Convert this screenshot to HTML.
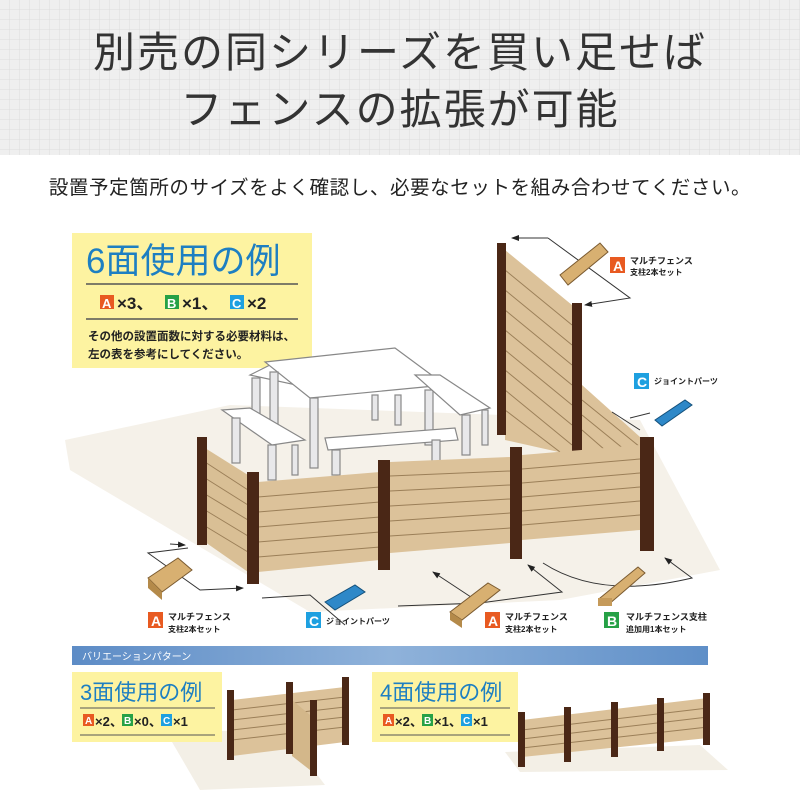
<!DOCTYPE html>
<html><head><meta charset="utf-8"><style>
html,body{margin:0;padding:0;background:#fff;}
body{width:800px;height:800px;overflow:hidden;font-family:"Liberation Sans","Noto Sans CJK JP",sans-serif;}
</style></head><body>
<svg width="800" height="800" viewBox="0 0 800 800" xmlns="http://www.w3.org/2000/svg" font-family="Liberation Sans, Noto Sans CJK JP, sans-serif">
<defs>
<pattern id="grid" width="10" height="10" patternUnits="userSpaceOnUse">
<rect width="10" height="10" fill="#efefef"/>
<path d="M10 0V10M0 10H10" stroke="#dcdcdc" stroke-width="1"/>
</pattern>
<linearGradient id="ban" x1="0" x2="1">
<stop offset="0" stop-color="#5d8cc6"/><stop offset="0.5" stop-color="#8fb2da"/><stop offset="1" stop-color="#5f8fc8"/>
</linearGradient>
<marker id="ar" markerWidth="8" markerHeight="8" refX="7" refY="4" orient="auto"><path d="M0,1 L8,4 L0,7z" fill="#222"/></marker>
</defs>
<rect x="0" y="0" width="800" height="155" fill="url(#grid)"/>
<text x="400" y="67" font-size="42" fill="#333" text-anchor="middle" letter-spacing="2">別売の同シリーズを買い足せば</text>
<text x="400" y="124" font-size="42" fill="#333" text-anchor="middle" letter-spacing="2">フェンスの拡張が可能</text>
<text x="400" y="194" font-size="19.5" fill="#222" text-anchor="middle" letter-spacing="0.6">設置予定箇所のサイズをよく確認し、必要なセットを組み合わせてください。</text>

<!-- ground -->
<polygon points="65,440 230,405 640,420 720,570 560,600 310,612 70,470" fill="#f5f1e9"/>

<!-- yellow box -->
<rect x="72" y="233" width="240" height="135" fill="#fdf3a1"/>
<text x="86" y="273" font-size="35" fill="#1d7fc2">6面使用の例</text>
<line x1="86" y1="284" x2="298" y2="284" stroke="#555" stroke-width="1.5"/>
<rect x="100" y="295" width="14" height="14" fill="#e85a21"/><text x="102" y="308" font-size="13" fill="#fff" font-weight="bold">A</text>
<text x="117" y="309" font-size="17" font-weight="bold" fill="#222">×3、</text>
<rect x="165" y="295" width="14" height="14" fill="#26a146"/><text x="167" y="308" font-size="13" fill="#fff" font-weight="bold">B</text>
<text x="182" y="309" font-size="17" font-weight="bold" fill="#222">×1、</text>
<rect x="230" y="295" width="14" height="14" fill="#1ea0e0"/><text x="232" y="308" font-size="13" fill="#fff" font-weight="bold">C</text>
<text x="247" y="309" font-size="17" font-weight="bold" fill="#222">×2</text>
<line x1="86" y1="319" x2="298" y2="319" stroke="#555" stroke-width="1.5"/>
<text x="88" y="340" font-size="11.5" fill="#222" font-weight="bold">その他の設置面数に対する必要材料は、</text>
<text x="88" y="358" font-size="11.5" fill="#222" font-weight="bold">左の表を参考にしてください。</text>

<!-- tall panels -->
<polygon points="505,250 572,305 572,455 505,440" fill="#dcc29a"/>
<g stroke="#9b7f58" stroke-width="1">
<line x1="505" y1="270" x2="572" y2="325"/><line x1="505" y1="290" x2="572" y2="345"/><line x1="505" y1="310" x2="572" y2="365"/><line x1="505" y1="330" x2="572" y2="385"/><line x1="505" y1="350" x2="572" y2="405"/><line x1="505" y1="370" x2="572" y2="425"/><line x1="505" y1="390" x2="572" y2="445"/><line x1="505" y1="410" x2="560" y2="452"/>
</g>
<polygon points="582,385 640,437 640,445 582,455" fill="#dcc29a"/>
<g stroke="#9b7f58"><line x1="582" y1="400" x2="640" y2="447"/><line x1="582" y1="415" x2="625" y2="450"/><line x1="582" y1="430" x2="605" y2="450"/></g>
<rect x="497" y="243" width="9" height="192" fill="#4a2716"/>
<rect x="572" y="303" width="10" height="152" fill="#4a2716"/>

<!-- table & benches -->
<g fill="#fff" stroke="#888" stroke-width="1.2">
<polygon points="250,375 270,365 330,378 310,388"/>
<rect x="252" y="378" width="8" height="45" fill="#e8e8ea"/>
<polygon points="265,362 395,348 445,385 310,398"/>
<rect x="310" y="398" width="8" height="70" fill="#e8e8ea"/><rect x="270" y="372" width="8" height="60" fill="#e8e8ea"/>
<rect x="425" y="390" width="8" height="55" fill="#e8e8ea"/><rect x="372" y="395" width="6" height="25" fill="#e8e8ea"/><rect x="395" y="395" width="6" height="30" fill="#e8e8ea"/>
<polygon points="415,375 440,375 490,408 460,415"/>
<rect x="462" y="415" width="8" height="40" fill="#e8e8ea"/><rect x="482" y="410" width="6" height="35" fill="#e8e8ea"/>
<polygon points="222,410 250,408 305,440 272,445"/>
<rect x="232" y="418" width="8" height="45" fill="#e8e8ea"/><rect x="268" y="445" width="8" height="35" fill="#e8e8ea"/><rect x="292" y="445" width="6" height="30" fill="#e8e8ea"/>
<polygon points="325,438 455,428 458,440 328,450"/>
<rect x="332" y="450" width="8" height="25" fill="#e8e8ea"/><rect x="432" y="440" width="8" height="30" fill="#e8e8ea"/>
</g>

<!-- front fence panels -->
<polygon points="205,448 248,475 248,572 205,542" fill="#d9bf95"/>
<polygon points="258,482 380,472 380,560 258,572" fill="#dcc29a"/>
<polygon points="390,462 510,457 510,543 390,553" fill="#dcc29a"/>
<polygon points="522,455 640,445 640,530 522,540" fill="#dcc29a"/>
<g stroke="#9b7f58" stroke-width="1">
<line x1="205" y1="462" x2="248" y2="490"/><line x1="205" y1="478" x2="248" y2="505"/><line x1="205" y1="494" x2="248" y2="520"/><line x1="205" y1="510" x2="248" y2="536"/><line x1="205" y1="526" x2="248" y2="552"/>
<line x1="258" y1="497" x2="380" y2="487"/><line x1="258" y1="512" x2="380" y2="502"/><line x1="258" y1="527" x2="380" y2="517"/><line x1="258" y1="542" x2="380" y2="532"/><line x1="258" y1="557" x2="380" y2="547"/>
<line x1="390" y1="476" x2="510" y2="471"/><line x1="390" y1="491" x2="510" y2="485"/><line x1="390" y1="506" x2="510" y2="499"/><line x1="390" y1="521" x2="510" y2="513"/><line x1="390" y1="536" x2="510" y2="528"/>
<line x1="522" y1="469" x2="640" y2="459"/><line x1="522" y1="483" x2="640" y2="473"/><line x1="522" y1="497" x2="640" y2="487"/><line x1="522" y1="511" x2="640" y2="501"/><line x1="522" y1="525" x2="640" y2="515"/>
</g>
<g fill="#4a2716">
<rect x="197" y="437" width="10" height="108"/>
<rect x="247" y="472" width="12" height="112"/>
<rect x="378" y="460" width="12" height="110"/>
<rect x="510" y="447" width="12" height="112"/>
<rect x="640" y="437" width="14" height="114"/>
</g>

<!-- arrows -->
<g fill="none" stroke="#333" stroke-width="1">
<polyline points="548,238 630,298 585,305" marker-end="url(#ar)"/>
<line x1="548" y1="238" x2="512" y2="238" marker-end="url(#ar)"/>
<polyline points="188,548 148,553 200,590 243,588" marker-end="url(#ar)"/>
<line x1="170" y1="544" x2="185" y2="545" marker-end="url(#ar)"/>
<polyline points="262,598 310,595 345,625"/>
<polyline points="398,606 480,603 433,572" marker-end="url(#ar)"/>
<polyline points="480,603 562,592 528,565" marker-end="url(#ar)"/>
<path d="M543,563 Q600,600 692,578 L665,558" marker-end="url(#ar)"/>
<polyline points="640,430 612,412"/>
<polyline points="650,413 630,418"/>
</g>

<!-- parts -->
<g>
<polygon points="148,578 178,558 192,570 162,592" fill="#d8b071" stroke="#7a5a30"/>
<polygon points="148,578 162,592 162,600 148,588" fill="#b48a4a"/>
<polygon points="450,612 488,583 500,590 462,620" fill="#d8b071" stroke="#7a5a30"/>
<polygon points="450,612 462,620 462,628 450,620" fill="#b48a4a"/>
<polygon points="560,275 600,243 608,252 568,285" fill="#d8b071" stroke="#7a5a30"/>
<polygon points="600,598 638,567 645,573 608,605" fill="#d8b071" stroke="#7a5a30"/>
<rect x="598" y="598" width="14" height="8" fill="#c59a5a"/>
<polygon points="325,602 355,585 365,592 335,610" fill="#2e88c8" stroke="#14507a"/>
<polygon points="655,420 685,400 692,405 662,426" fill="#2e88c8" stroke="#14507a"/>
</g>

<!-- labels -->
<g font-weight="bold">
<rect x="148" y="612" width="15" height="16" fill="#e85a21"/><text x="151" y="626" font-size="14" fill="#fff">A</text>
<text x="168" y="620" font-size="9" fill="#222">マルチフェンス</text><text x="168" y="632" font-size="8" fill="#222">支柱2本セット</text>
<rect x="306" y="612" width="15" height="16" fill="#1ea0e0"/><text x="309" y="626" font-size="14" fill="#fff">C</text>
<text x="326" y="624" font-size="8" fill="#222">ジョイントパーツ</text>
<rect x="485" y="612" width="15" height="16" fill="#e85a21"/><text x="488" y="626" font-size="14" fill="#fff">A</text>
<text x="505" y="620" font-size="9" fill="#222">マルチフェンス</text><text x="505" y="632" font-size="8" fill="#222">支柱2本セット</text>
<rect x="604" y="612" width="15" height="16" fill="#26a146"/><text x="607" y="626" font-size="14" fill="#fff">B</text>
<text x="626" y="620" font-size="9" fill="#222">マルチフェンス支柱</text><text x="626" y="632" font-size="8" fill="#222">追加用1本セット</text>
<rect x="610" y="257" width="15" height="16" fill="#e85a21"/><text x="613" y="271" font-size="14" fill="#fff">A</text>
<text x="630" y="264" font-size="9" fill="#222">マルチフェンス</text><text x="630" y="275" font-size="8" fill="#222">支柱2本セット</text>
<rect x="634" y="373" width="15" height="16" fill="#1ea0e0"/><text x="637" y="387" font-size="14" fill="#fff">C</text>
<text x="654" y="384" font-size="8" fill="#222">ジョイントパーツ</text>
</g>

<!-- banner -->
<rect x="72" y="646" width="636" height="19" fill="url(#ban)"/>
<text x="82" y="660" font-size="10" fill="#fff">バリエーションパターン</text>

<!-- 3 face -->
<polygon points="165,730 285,732 325,785 200,790" fill="#f3efe6"/>
<rect x="72" y="672" width="150" height="70" fill="#fdf3a1"/>
<text x="80" y="700" font-size="22" fill="#1d7fc2">3面使用の例</text>
<line x1="80" y1="708" x2="215" y2="708" stroke="#555"/>
<line x1="80" y1="735" x2="215" y2="735" stroke="#555"/>
<g font-weight="bold" font-size="13">
<rect x="83" y="714" width="11" height="12" fill="#e85a21"/><text x="85" y="724" font-size="10" fill="#fff">A</text><text x="95" y="726" fill="#222">×2、</text>
<rect x="122" y="714" width="11" height="12" fill="#26a146"/><text x="124" y="724" font-size="10" fill="#fff">B</text><text x="134" y="726" fill="#222">×0、</text>
<rect x="161" y="714" width="11" height="12" fill="#1ea0e0"/><text x="163" y="724" font-size="10" fill="#fff">C</text><text x="173" y="726" fill="#222">×1</text>
</g>
<polygon points="232,700 345,687 345,742 232,756" fill="#dcc29a"/>
<g stroke="#9b7f58"><line x1="232" y1="710" x2="345" y2="697"/><line x1="232" y1="720" x2="345" y2="707"/><line x1="232" y1="730" x2="345" y2="717"/><line x1="232" y1="740" x2="345" y2="727"/></g>
<polygon points="292,700 310,715 310,770 292,756" fill="#d3b78a"/>
<g fill="#4a2716"><rect x="227" y="690" width="7" height="70"/><rect x="286" y="682" width="7" height="72"/><rect x="342" y="677" width="7" height="68"/><rect x="310" y="700" width="7" height="76"/></g>

<!-- 4 face -->
<polygon points="505,752 700,745 728,770 520,772" fill="#f3efe6"/>
<rect x="372" y="672" width="146" height="70" fill="#fdf3a1"/>
<text x="380" y="700" font-size="22" fill="#1d7fc2">4面使用の例</text>
<line x1="380" y1="708" x2="510" y2="708" stroke="#555"/>
<line x1="380" y1="735" x2="510" y2="735" stroke="#555"/>
<g font-weight="bold" font-size="13">
<rect x="383" y="714" width="11" height="12" fill="#e85a21"/><text x="385" y="724" font-size="10" fill="#fff">A</text><text x="395" y="726" fill="#222">×2、</text>
<rect x="422" y="714" width="11" height="12" fill="#26a146"/><text x="424" y="724" font-size="10" fill="#fff">B</text><text x="434" y="726" fill="#222">×1、</text>
<rect x="461" y="714" width="11" height="12" fill="#1ea0e0"/><text x="463" y="724" font-size="10" fill="#fff">C</text><text x="473" y="726" fill="#222">×1</text>
</g>
<polygon points="522,720 708,698 708,738 522,757" fill="#dcc29a"/>
<g stroke="#9b7f58"><line x1="522" y1="730" x2="708" y2="708"/><line x1="522" y1="739" x2="708" y2="717"/><line x1="522" y1="748" x2="708" y2="727"/></g>
<g fill="#4a2716"><rect x="518" y="712" width="7" height="55"/><rect x="564" y="707" width="7" height="55"/><rect x="611" y="702" width="7" height="55"/><rect x="657" y="698" width="7" height="53"/><rect x="703" y="693" width="7" height="52"/></g>
</svg>
</body></html>
